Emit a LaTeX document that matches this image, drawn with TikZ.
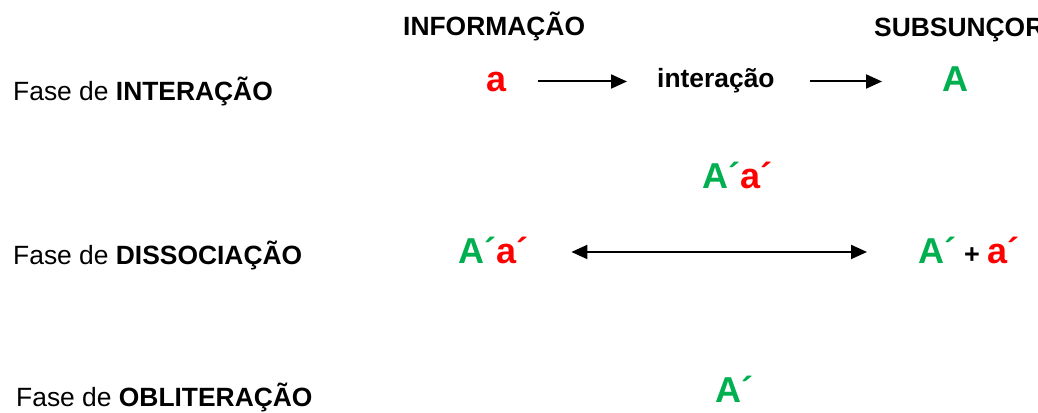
\documentclass[tikz,border=0pt]{standalone}
\usepackage{fontspec}
\setmainfont{Liberation Sans}
\usetikzlibrary{arrows.meta}
\definecolor{xgreen}{HTML}{00B050}
\definecolor{xred}{HTML}{FF0000}
\begin{document}
\begin{tikzpicture}[x=1pt,y=-1pt,
  lbl/.style={anchor=base west, inner sep=0pt, font=\fontsize{26.4}{30}\selectfont},
  head/.style={anchor=base west, inner sep=0pt, font=\bfseries\fontsize{26.4}{30}\selectfont},
  big/.style={anchor=base west, inner sep=0pt, font=\bfseries\fontsize{36}{40}\selectfont},
  tip/.style={Triangle[length=16pt,width=14pt]},
  arr/.style={-{Triangle[length=16pt,width=14pt]}, line width=2pt},
  darr/.style={{Triangle[length=16pt,width=14pt]}-{Triangle[length=16pt,width=14pt]}, line width=2pt}]
\useasboundingbox (0,0) rectangle (1038,412);
\fill[white] (0,0) rectangle (1038,412);
% column headers
\node[head] (info) at (403,36) {INFORMAÇÃO};
\node[head] (subs) at (874,37) {SUBSUNÇOR};
% phase labels
\node[lbl] (f1) at (13,100) {Fase de \textbf{INTERAÇÃO}};
\node[lbl] (f2) at (13,264) {Fase de \textbf{DISSOCIAÇÃO}};
\node[lbl] (f3) at (16,406) {Fase de \textbf{OBLITERAÇÃO}};
% interaction row
\node[big, text=xred] (a) at (486,91) {a};
\node[head] (inter) at (657,88) {interação};
\node[big, text=xgreen] (A) at (942,92) {A};
\draw[arr, shorten <=32pt, shorten >=30pt] (a.east) -- (a.east -| inter.west);
\draw[arr, shorten <=35pt, shorten >=60pt] (a.east -| inter.east) -- (a.east -| A.west);
% middle product
\node[big] (mid) at (702,188) {\textcolor{xgreen}{A´}\textcolor{xred}{a´}};
% dissociation row
\node[big] (d1) at (458,263) {\textcolor{xgreen}{A´}\textcolor{xred}{a´}};
\node[big] (d2) at (918,263) {\textcolor{xgreen}{A´}\hspace{8pt}{\fontsize{27}{30}\selectfont +}\hspace{8pt}\textcolor{xred}{a´}};
\coordinate (dl) at ([yshift=-2pt]d1.east);
\draw[darr, shorten <=43pt, shorten >=51pt] (dl) -- (dl -| d2.west);
% obliteration row
\node[big, text=xgreen] (ob) at (715,402) {A´};
\end{tikzpicture}
\end{document}
